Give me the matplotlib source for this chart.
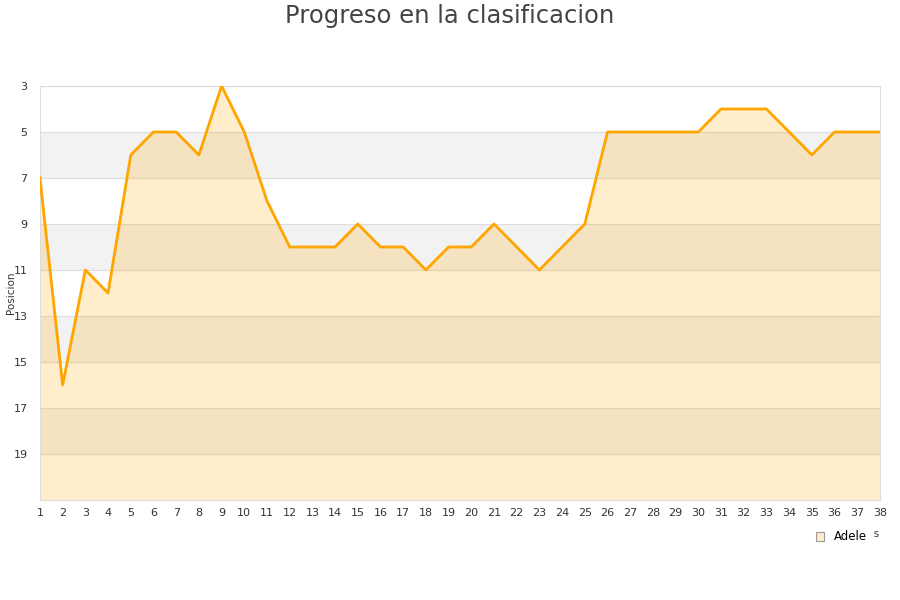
import matplotlib
matplotlib.use('Agg')
import matplotlib.pyplot as plt
from matplotlib.patches import Patch

jornadas = list(range(1, 39))
posicion = [7, 16, 11, 12, 6, 5, 5, 6, 3, 5, 8, 10, 10, 10, 9, 10, 10, 11, 10, 10,
            9, 10, 11, 10, 9, 5, 5, 5, 5, 5, 4, 4, 4, 5, 6, 5, 5, 5]
yticks = [3, 5, 7, 9, 11, 13, 15, 17, 19]

fig = plt.figure(figsize=(9, 6), dpi=100)
ax = fig.add_axes([0.0444, 0.1667, 0.9333, 0.69])

ymin, ymax = 3, 21
# alternating horizontal bands
for i, lo in enumerate(range(ymin, ymax, 2)):
    if i % 2 == 1:
        ax.axhspan(lo, lo + 2, color='#f2f2f2', zorder=0, lw=0)
for t in yticks:
    ax.axhline(t, color='#dddddd', lw=0.8, zorder=0.5)

ax.fill_between(jornadas, posicion, ymax, color='#ffa500', alpha=0.2, lw=0, zorder=1)
ax.plot(jornadas, posicion, color='#ffa500', lw=2, zorder=3)

ax.set_xlim(1, 38)
ax.set_ylim(ymax, ymin)
ax.set_xticks(jornadas)
ax.set_yticks(yticks)
ax.tick_params(axis='both', length=0, labelsize=8, colors='#333333', pad=6)
ax.tick_params(axis='y', pad=9)
for s in ax.spines.values():
    s.set_color('#dddddd')

ax.set_ylabel('Posicion', fontsize=7.5, color='#333333')
ax.yaxis.set_label_coords(-0.028, 0.5)
ax.set_xlabel('Jornadas', fontsize=7.5, color='#333333')
ax.xaxis.set_label_coords(1.0, -0.07)
ax.xaxis.label.set_horizontalalignment('right')

fig.text(0.5, 0.973, 'Progreso en la clasificacion', fontsize=17.5, color='#444444',
         ha='center', va='center')

handle = Patch(facecolor='#ffecc8', edgecolor='#999999', lw=0.8)
leg = fig.legend([handle], ['Adele'], loc='center', bbox_to_anchor=(0.935, 0.105),
                 frameon=True, fontsize=8.5, handlelength=0.7, handleheight=0.7,
                 borderpad=0.5, handletextpad=0.8)
leg.get_frame().set_edgecolor('white')
leg.get_frame().set_facecolor('white')
leg.get_frame().set_alpha(1)
leg.set_zorder(10)

fig.savefig('out.png', dpi=100)
